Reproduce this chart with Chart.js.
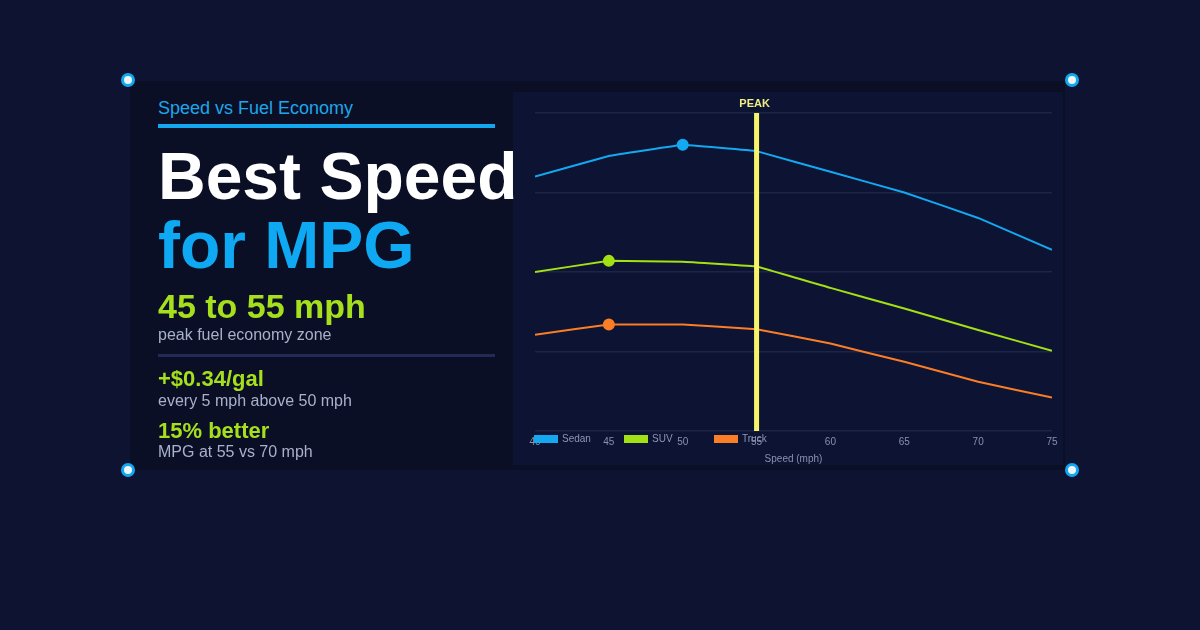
<!DOCTYPE html>
<html lang="en">
<head>
<meta charset="UTF-8">
<title>Best Speed for MPG</title>
<script src="https://cdn.jsdelivr.net/npm/chart.js"></script>
<style>
  html, body { margin: 0; padding: 0; }
  body { width: 1200px; height: 630px; background: #0d1330; font-family: "Liberation Sans", Arial, sans-serif; position: relative; overflow: hidden; }
  .card { position: absolute; left: 130px; top: 81px; width: 935px; height: 389px; background: #0a0f25; }
  .dot { position: absolute; width: 8px; height: 8px; border-radius: 50%; background: #eaf7ff; border: 3px solid #14a6f0; transform: translate(-50%, -50%); }
  .t { position: absolute; left: 158px; white-space: nowrap; }
  .kicker { top: 98px; font-size: 18px; color: #1ea6ea; }
  .rule { position: absolute; left: 158px; width: 337px; top: 124px; height: 4px; background: #12a7ef; }
  .h1 { font-weight: bold; font-size: 66px; line-height: 66px; }
  .big { font-weight: bold; font-size: 34px; color: #a6e01c; }
  .sub { font-size: 16px; color: #a9b0c9; }
  .stat { font-weight: bold; font-size: 22px; color: #a6e01c; }
  .sep { position: absolute; left: 158px; width: 337px; top: 354px; height: 3px; background: #222a55; }
  .chartbox { position: absolute; left: 513px; top: 92px; width: 550px; height: 373px; background: #0d1332; }
</style>
</head>
<body>
<div class="card"></div>
<div class="chartbox"><canvas id="mpgChart" width="550" height="373"></canvas></div>

<div class="t kicker">Speed vs Fuel Economy</div>
<div class="rule"></div>
<div class="t h1" style="top:143px;color:#ffffff;">Best Speed</div>
<div class="t h1" style="top:212px;color:#0ea9f2;">for MPG</div>
<div class="t big" style="top:287px;">45 to 55 mph</div>
<div class="t sub" style="top:326px;">peak fuel economy zone</div>
<div class="sep"></div>
<div class="t stat" style="top:366px;">+$0.34/gal</div>
<div class="t sub" style="top:392px;">every 5 mph above 50 mph</div>
<div class="t stat" style="top:418px;">15% better</div>
<div class="t sub" style="top:443px;">MPG at 55 vs 70 mph</div>

<div class="dot" style="left:128px;top:80px;"></div>
<div class="dot" style="left:1072px;top:80px;"></div>
<div class="dot" style="left:128px;top:470px;"></div>
<div class="dot" style="left:1072px;top:470px;"></div>

<script>
const speeds = [40, 45, 50, 55, 60, 65, 70, 75];
const sedanMpg = [32.0, 34.6, 36.0, 35.2, 32.6, 30.0, 26.8, 22.8];
const suvMpg = [20.0, 21.4, 21.3, 20.7, 18.0, 15.4, 12.7, 10.1];
const truckMpg = [12.1, 13.4, 13.4, 12.8, 11.0, 8.7, 6.2, 4.2];
const peakSpeed = 55;

const seriesNames = ['Sedan', 'SUV', 'Truck'];
const seriesColors = ['#14a8f0', '#a3e014', '#fb7d26'];
const seriesValues = [sedanMpg, suvMpg, truckMpg];

function peakRadius(values) {
    const max = Math.max(...values);
    const i = values.indexOf(max);
    return values.map((v, j) => j === i ? 5 : 0);
}

const datasets = seriesValues.map((vals, k) => ({
    label: seriesNames[k],
    data: vals.map((v, i) => ({ x: speeds[i], y: v })),
    borderColor: seriesColors[k],
    backgroundColor: seriesColors[k],
    borderWidth: 2,
    tension: 0.03,
    pointRadius: peakRadius(vals),
    pointHoverRadius: 0,
    fill: false
}));

// yellow marker at the peak speed, drawn over the lines
const peakLine = {
    id: 'peakLine',
    afterDatasetsDraw(chart) {
        const { ctx, chartArea, scales } = chart;
        const x = scales.x.getPixelForValue(peakSpeed);
        ctx.save();
        ctx.fillStyle = '#f6f46a';
        ctx.fillRect(x - 2.5, chartArea.top, 5, chartArea.bottom - chartArea.top);
        ctx.font = 'bold 11px "Liberation Sans", Arial, sans-serif';
        ctx.textAlign = 'center';
        ctx.textBaseline = 'bottom';
        ctx.fillStyle = '#eeec84';
        ctx.fillText('PEAK', x - 2, chartArea.top - 4);
        ctx.restore();
    }
};

// legend sits on the axis line with fixed spacing
const flatLegend = {
    id: 'flatLegend',
    afterDraw(chart) {
        const { ctx, chartArea } = chart;
        ctx.save();
        ctx.font = '10px "Liberation Sans", Arial, sans-serif';
        ctx.textBaseline = 'middle';
        seriesNames.forEach((name, k) => {
            const x = chartArea.left - 1 + k * 90;
            const y = chartArea.bottom + 8;
            ctx.fillStyle = seriesColors[k];
            ctx.fillRect(x, y - 4, 24, 8);
            ctx.fillStyle = '#8c95b3';
            ctx.fillText(name, x + 28, y);
        });
        ctx.restore();
    }
};

new Chart(document.getElementById('mpgChart'), {
    type: 'line',
    data: { datasets },
    options: {
        responsive: false,
        animation: false,
        layout: { padding: { left: 22, right: 11, top: 21, bottom: 0 } },
        scales: {
            x: {
                type: 'linear',
                min: 40,
                max: 75,
                ticks: { stepSize: 5, color: '#8891ad', font: { size: 10 }, padding: 5 },
                grid: { display: false, drawTicks: false },
                border: { display: false },
                title: { display: true, text: 'Speed (mph)', color: '#8891ad', font: { size: 10 }, padding: { top: 0, bottom: 0 } }
            },
            y: {
                min: 0,
                max: 40,
                ticks: { stepSize: 10, display: false },
                grid: { color: '#1d2547', lineWidth: 1.5, drawTicks: false },
                border: { display: false }
            }
        },
        plugins: {
            legend: { display: false },
            tooltip: { enabled: false }
        }
    },
    plugins: [peakLine, flatLegend]
});
</script>
</body>
</html>
